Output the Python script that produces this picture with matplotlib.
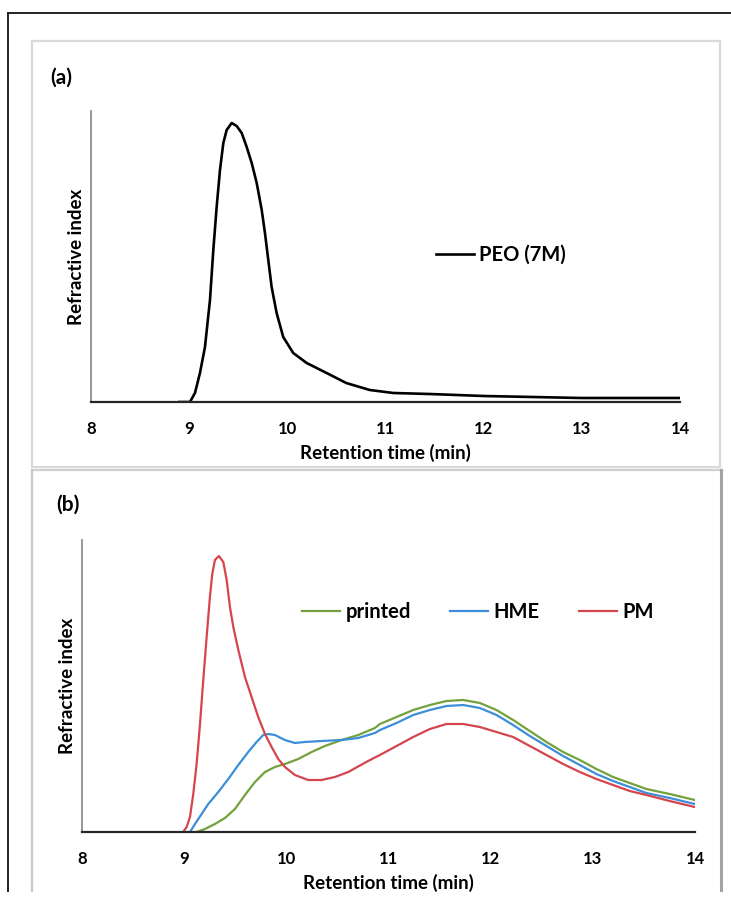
#!/usr/bin/env python3
# -*- coding: utf-8 -*-

import matplotlib
matplotlib.use("Agg")
from matplotlib import pyplot as plt
from matplotlib.lines import Line2D
from matplotlib.patches import Rectangle

plt.rcParams['font.family'] = ['Lato', 'DejaVu Sans']
plt.rcParams['font.weight'] = 'bold'
plt.rcParams['axes.labelweight'] = 'bold'

# (a) PEO 7M refractive index trace
time_peo = [8.9, 9.008, 9.059, 9.110, 9.161, 9.212, 9.246, 9.280, 9.314, 9.348,
            9.382, 9.433, 9.484, 9.535, 9.586, 9.637, 9.688, 9.739, 9.772,
            9.806, 9.840, 9.891, 9.958, 10.06, 10.197, 10.40, 10.60, 10.84,
            11.08, 11.45, 12.0, 12.5, 13.0, 13.5, 14.0]
ri_peo = [0, 0, 9, 29, 55, 102, 152, 195, 232, 259,
          272, 279, 276, 269, 255, 239, 219, 192, 169,
          142, 115, 89, 65, 49, 39, 29, 19, 12,
          9, 8, 6, 5, 4, 4, 4]

# (b) printed / HME / physical mixture
time_pm = [8.991, 9.024, 9.057, 9.089, 9.122, 9.155, 9.187, 9.220, 9.252, 9.275,
           9.301, 9.340, 9.383, 9.416, 9.448, 9.481, 9.530, 9.595, 9.660, 9.725,
           9.791, 9.856, 9.921, 9.986, 10.084, 10.214, 10.345, 10.476, 10.606,
           10.80, 10.916, 11.079, 11.242, 11.405, 11.568, 11.731, 11.894, 12.057,
           12.220, 12.383, 12.546, 12.709, 12.872, 13.035, 13.198, 13.361, 13.524,
           13.752, 13.997]
ri_pm = [0, 5, 15, 38, 68, 108, 152, 195, 235, 258,
         272, 276, 270, 252, 225, 205, 182, 155, 135, 115,
         98, 85, 73, 65, 57, 52, 52, 55, 60,
         71, 77, 86, 95, 103, 108, 108, 105, 100,
         95, 86, 77, 68, 60, 53, 47, 41, 37,
         31, 25]

time_hme = [9.057, 9.106, 9.171, 9.236, 9.334, 9.432, 9.530, 9.627, 9.709, 9.774,
            9.823, 9.888, 9.986, 10.084, 10.18, 10.345, 10.541, 10.704, 10.867,
            10.916, 11.079, 11.242, 11.405, 11.568, 11.731, 11.894, 12.057,
            12.220, 12.383, 12.546, 12.709, 12.872, 13.035, 13.198, 13.361,
            13.524, 13.752, 13.997]
ri_hme = [0, 8, 18, 28, 40, 53, 67, 80, 90, 97,
          98, 97, 92, 89, 90, 91, 92, 94, 99,
          102, 109, 117, 122, 126, 127, 124, 117,
          107, 96, 86, 76, 67, 58, 51, 45,
          39, 34, 28]

time_printed = [9.122, 9.204, 9.301, 9.399, 9.497, 9.595, 9.693, 9.791, 9.888,
                9.986, 10.117, 10.247, 10.378, 10.541, 10.704, 10.867, 10.916,
                11.079, 11.242, 11.405, 11.568, 11.731, 11.894, 12.057, 12.220,
                12.383, 12.546, 12.709, 12.872, 13.035, 13.198, 13.361, 13.524,
                13.752, 13.997]
ri_printed = [0, 3, 8, 14, 23, 37, 50, 60, 65,
              68, 73, 80, 86, 92, 97, 104, 108,
              115, 122, 127, 131, 132, 129, 122, 112,
              101, 90, 80, 72, 63, 55, 49, 43,
              38, 32]

xticks = [8, 9, 10, 11, 12, 13, 14]

W, H = 731, 913


def fx(px):
    return px / W


def fy(py):
    return (H - py) / H


def style_axes(ax, ymax):
    ax.set_xlim(8, 14)
    ax.set_ylim(0, ymax)
    ax.set_xticks(xticks)
    ax.set_xticklabels([str(t) for t in xticks])
    ax.set_yticks([])
    ax.tick_params(axis='x', length=0, pad=14, labelsize=12)
    for s in ['top', 'right']:
        ax.spines[s].set_visible(False)
    ax.spines['left'].set_color('#8f8f8f')
    ax.spines['left'].set_linewidth(1.3)
    ax.spines['bottom'].set_color('#262626')
    ax.spines['bottom'].set_linewidth(1.6)
    ax.set_facecolor('none')


fig = plt.figure(figsize=(W / 100, H / 100), dpi=100)

# outer frame (top and left edges only)
fig.add_artist(Line2D([fx(8), fx(731)], [fy(13), fy(13)], color='#222222', lw=1.4))
fig.add_artist(Line2D([fx(8), fx(8)], [fy(13), fy(892)], color='#222222', lw=1.4))

# panel boxes
fig.add_artist(Rectangle((fx(32), fy(467)), fx(720) - fx(32), fy(41) - fy(467),
                         fill=False, edgecolor='#d9d9d9', lw=1.6))
fig.add_artist(Line2D([fx(32), fx(721)], [fy(470), fy(470)], color='#d0d0d0', lw=1.6))
fig.add_artist(Line2D([fx(32), fx(32)], [fy(470), fy(892)], color='#c8c8c8', lw=1.6))
fig.add_artist(Line2D([fx(721), fx(721)], [fy(470), fy(892)], color='#a3a3a3', lw=2.2))

leg_font = {'weight': 'bold', 'size': 14.5}

# panel (a)
ax1 = fig.add_axes([fx(91), fy(402), fx(680) - fx(91), fy(111) - fy(402)])
style_axes(ax1, 291)
ax1.plot(time_peo, ri_peo, color='black', lw=1.9, label='PEO (7M)',
         solid_joinstyle='round')
ax1.set_xlabel('Retention time (min)', fontsize=13.5, labelpad=5)
ax1.set_ylabel('Refractive index', fontsize=13.5, labelpad=4)
ax1.legend(loc='center left', bbox_to_anchor=((436 - 91) / 589, (402 - 255) / 291),
           frameon=False, prop=leg_font, handlelength=1.9, handletextpad=0.25,
           borderpad=0, borderaxespad=0)
fig.text(fx(50), fy(78), '(a)', fontsize=15, fontweight='bold', va='center', ha='left')

# panel (b)
ax2 = fig.add_axes([fx(82), fy(832), fx(695) - fx(82), fy(540) - fy(832)])
style_axes(ax2, 292)
ax2.plot(time_printed, ri_printed, color='#73a13c', lw=1.6, label='printed')
ax2.plot(time_hme, ri_hme, color='#3d8ed8', lw=1.6, label='HME')
ax2.plot(time_pm, ri_pm, color='#d5454d', lw=1.6, label='PM')
ax2.set_xlabel('Retention time (min)', fontsize=13.5, labelpad=5)
ax2.set_ylabel('Refractive index', fontsize=13.5, labelpad=4)
ax2.legend(loc='center left', bbox_to_anchor=((302 - 82) / 613, (832 - 612) / 292),
           ncol=3, frameon=False, prop=leg_font, handlelength=1.9,
           handletextpad=0.25, columnspacing=1.95, borderpad=0, borderaxespad=0)
fig.text(fx(56), fy(505), '(b)', fontsize=15, fontweight='bold', va='center', ha='left')

# bottom strip of the page is cut off
fig.add_artist(Rectangle((0, 0), 1, fy(892), facecolor='white', edgecolor='none',
                         zorder=10))

fig.savefig('out.png', dpi=100)
